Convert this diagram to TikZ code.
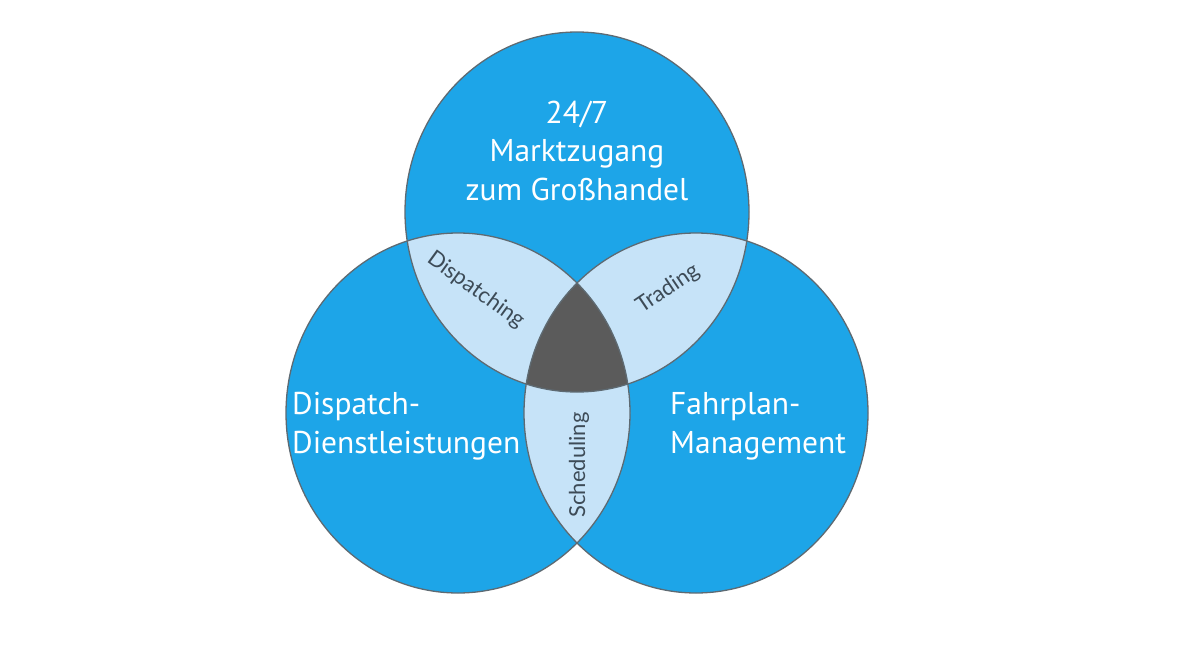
\documentclass[tikz,border=0pt]{standalone}
\usepackage{fontspec}
\setmainfont{PT Sans}
\newfontfamily\lensfont{Lato}
\definecolor{circblue}{HTML}{1DA5E8}
\definecolor{lensblue}{HTML}{C6E3F8}
\definecolor{coregray}{HTML}{5B5B5B}
\definecolor{edgegray}{HTML}{5E6A72}
\definecolor{lenstext}{HTML}{3D4B57}
\tikzset{
  bigtext/.style={text=white, inner sep=0pt, font=\fontsize{31.5}{38.5}\selectfont},
  lenslabel/.style={text=lenstext, inner sep=0pt, font=\lensfont\fontsize{22}{25}\selectfont},
  rim/.style={draw=edgegray, line width=1.3pt}
}
\begin{document}
\begin{tikzpicture}[x=1pt,y=-1pt]
\useasboundingbox (0,0) rectangle (1185,666);
\def\top{(577,212) ellipse [x radius=172pt, y radius=180pt]}
\def\lft{(458,413) ellipse [x radius=172pt, y radius=180pt]}
\def\rgt{(696,413) ellipse [x radius=172pt, y radius=180pt]}
% base fills
\fill[circblue] \top;
\fill[circblue] \lft;
\fill[circblue] \rgt;
% pairwise lenses
\begin{scope}
  \clip \top;
  \fill[lensblue] \lft;
  \fill[lensblue] \rgt;
\end{scope}
\begin{scope}
  \clip \lft;
  \fill[lensblue] \rgt;
\end{scope}
% triple core
\begin{scope}
  \clip \top;
  \clip \lft;
  \fill[coregray] \rgt;
\end{scope}
% outlines
\draw[rim] \top;
\draw[rim] \lft;
\draw[rim] \rgt;
% labels
\node[bigtext, align=center, anchor=base] (market) at (577,200) {24/7\\Marktzugang\\zum Großhandel};
\node[bigtext, align=left, anchor=base west] (dispatch) at (292,453) {Dispatch-\\Dienstleistungen};
\node[bigtext, align=left, anchor=base west] (fahrplan) at (670,453) {Fahrplan-\\Management};
\node[lenslabel, rotate=-36] (dispatching) at (476,290) {Dispatching};
\node[lenslabel, rotate=34] (trading) at (668,289) {Trading};
\node[lenslabel, rotate=90] (scheduling) at (579,465) {Scheduling};
\end{tikzpicture}
\end{document}
